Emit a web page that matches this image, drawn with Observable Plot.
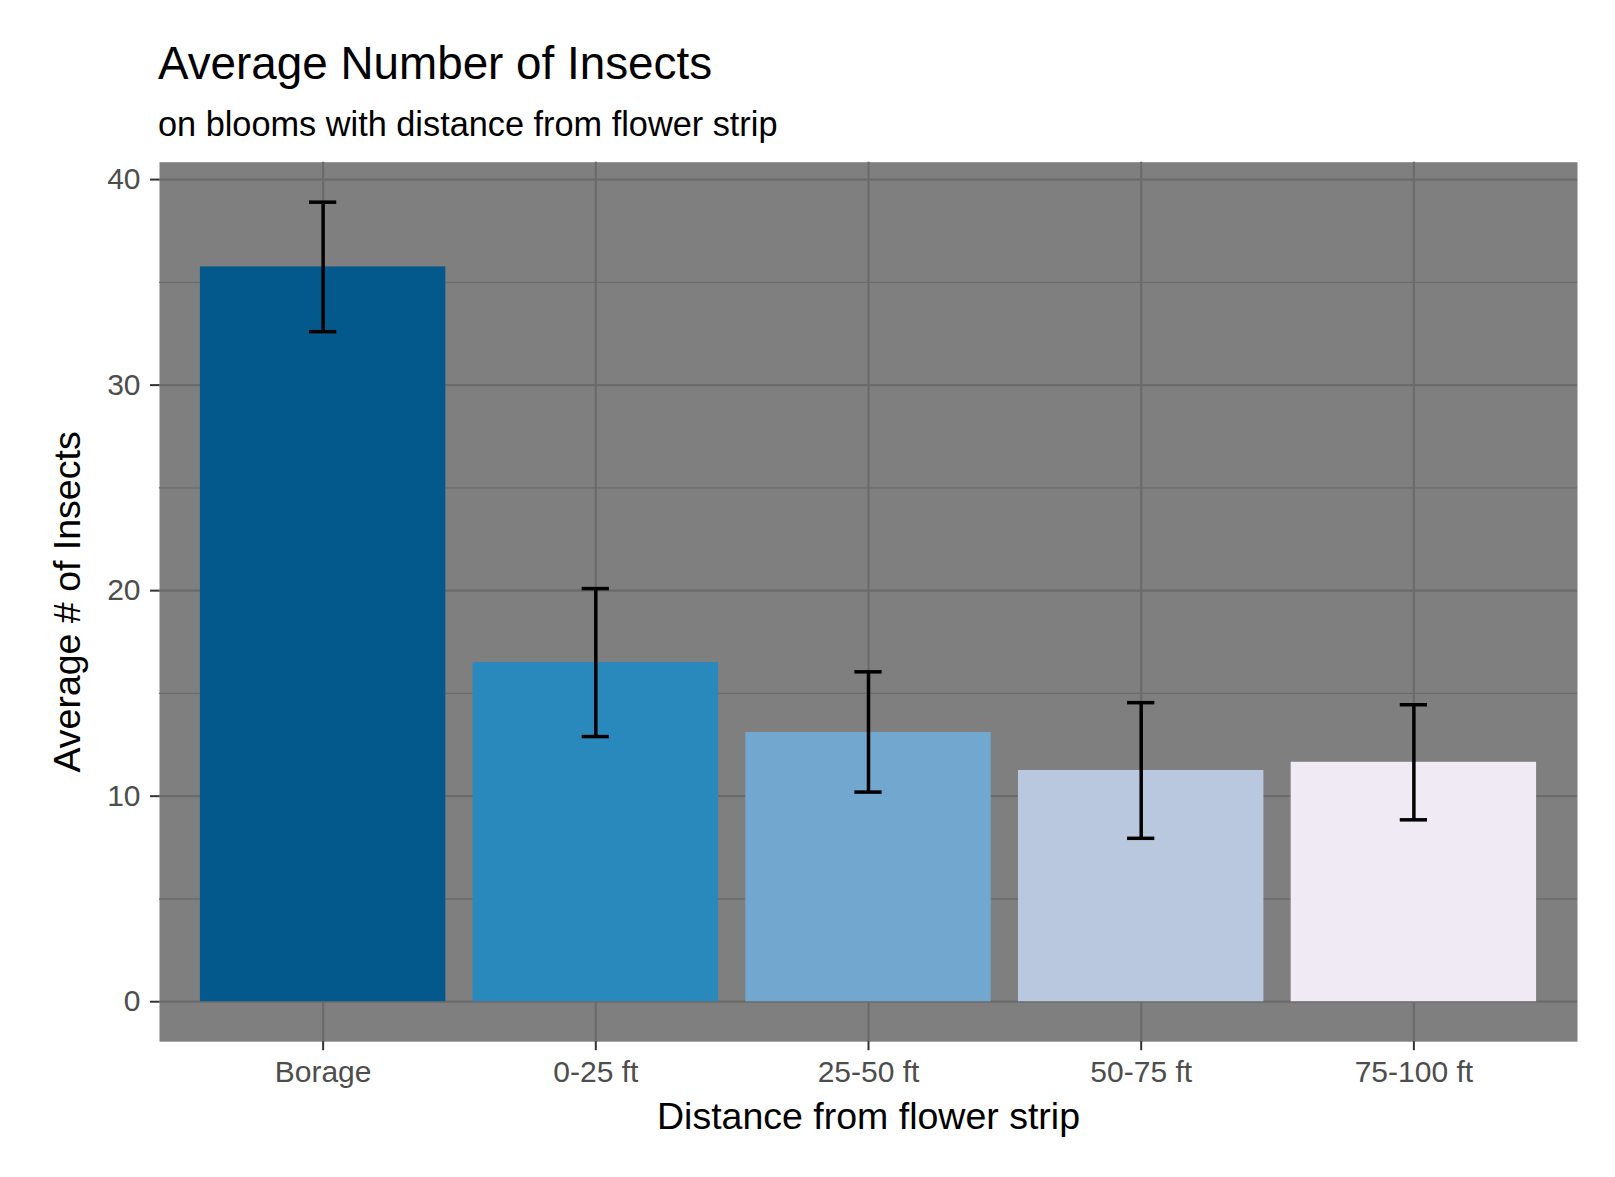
<!DOCTYPE html>
<html><head><meta charset="utf-8">
<script src="https://cdn.jsdelivr.net/npm/d3@7"></script>
<script src="https://cdn.jsdelivr.net/npm/@observablehq/plot@0.6"></script>
<style>
body{margin:0;background:#fff;font-family:"Liberation Sans",Arial,Helvetica,sans-serif;}
#wrap{position:relative;width:1615px;height:1177px;overflow:hidden;}
#title{position:absolute;left:158px;top:41px;font-size:45.8px;line-height:1;color:#000;white-space:nowrap;}
#subtitle{position:absolute;left:158px;top:107px;font-size:34.3px;line-height:1;color:#000;white-space:nowrap;}
#chart{position:absolute;left:0;top:150px;}
</style></head><body>
<div id="wrap">
<div id="title">Average Number of Insects</div>
<div id="subtitle">on blooms with distance from flower strip</div>
<div id="chart"></div>
</div>
<script>
const categories = ["Borage", "0-25 ft", "25-50 ft", "50-75 ft", "75-100 ft"];
const means = [35.75, 16.5, 13.1, 11.25, 11.65];
const lower = [32.6, 12.9, 10.2, 7.95, 8.85];
const upper = [38.9, 20.1, 16.05, 14.55, 14.45];
const barColors = ["#03598b", "#2989bc", "#72a8cf", "#bac8df", "#efeaf4"];
const majorTicks = [0, 10, 20, 30, 40];
const minorTicks = [5, 15, 25, 35];
const xTitle = "Distance from flower strip";
const yTitle = "Average # of Insects";

const data = categories.map((c, i) => ({cat: c, mean: means[i], lo: lower[i], hi: upper[i]}));

const W = 1615, H = 1027, mL = 159, mR = 38, mT = 11.7, mB = 135.8;
const pInner = 0.1, pOuter = 0.15;
const step = (W - mL - mR) / (categories.length - pInner + 2 * pOuter);
const bw = step * (1 - pInner);
const capW = step * 0.1;
const capInset = (bw - capW) / 2;
const maxVal = d3.max(upper);
const yDomain = [-0.05 * maxVal, 1.05 * maxVal];
const gridColor = "#6b6b6b";
const font = "Liberation Sans, Arial, Helvetica, sans-serif";

const chart = Plot.plot({
  width: W, height: H,
  marginLeft: mL, marginRight: mR, marginTop: mT, marginBottom: mB,
  style: {fontFamily: font, background: "transparent", overflow: "visible"},
  x: {domain: categories, paddingInner: pInner, paddingOuter: pOuter, align: 0.5, round: false},
  y: {domain: yDomain},
  color: {domain: categories, range: barColors},
  marks: [
    Plot.frame({fill: "#7f7f7f", stroke: "none"}),
    Plot.gridY(minorTicks, {stroke: gridColor, strokeOpacity: 1, strokeWidth: 1.4}),
    Plot.gridY(majorTicks, {stroke: gridColor, strokeOpacity: 1, strokeWidth: 2.2}),
    Plot.gridX({stroke: gridColor, strokeOpacity: 1, strokeWidth: 2.2}),
    Plot.barY(data, {x: "cat", y: "mean", fill: "cat"}),
    Plot.ruleX(data, {x: "cat", y1: "lo", y2: "hi", stroke: "#000", strokeWidth: 3.5}),
    Plot.tickY(data, {x: "cat", y: "lo", insetLeft: capInset, insetRight: capInset, stroke: "#000", strokeWidth: 3.5}),
    Plot.tickY(data, {x: "cat", y: "hi", insetLeft: capInset, insetRight: capInset, stroke: "#000", strokeWidth: 3.5}),
    Plot.axisY(majorTicks, {tickSize: 9, tickPadding: 10, fontSize: 30, stroke: "#333333", fill: "#4d4d4d", strokeWidth: 2, label: null}),
    Plot.axisX({tickSize: 9, tickPadding: 10, fontSize: 30, stroke: "#333333", fill: "#4d4d4d", strokeWidth: 2, label: null}),
    Plot.text([xTitle], {text: d => d, frameAnchor: "bottom", dy: 87, lineAnchor: "bottom", textAnchor: "middle", fontSize: 37.5, fill: "#000"}),
    Plot.text([yTitle], {text: d => d, frameAnchor: "left", dx: -106, rotate: -90, lineAnchor: "top", textAnchor: "middle", fontSize: 37.5, fill: "#000"})
  ]
});
document.getElementById("chart").appendChild(chart);
</script>
</body></html>
